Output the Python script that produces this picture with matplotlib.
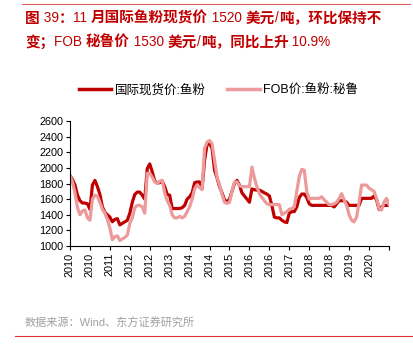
import matplotlib
matplotlib.use("Agg")
import matplotlib.pyplot as plt
from matplotlib.lines import Line2D

plt.rcParams['font.family'] = ['Liberation Sans', 'Noto Sans CJK SC', 'DejaVu Sans']

# monthly prices, USD/ton
spot = [1900, 1850, 1780, 1650, 1580, 1550, 1550, 1540, 1470, 1780,
        1840, 1760, 1660, 1500, 1430, 1400, 1370, 1310, 1340, 1350,
        1270, 1290, 1310, 1330, 1420, 1560, 1660, 1690, 1690, 1650,
        1600, 1990, 2050, 1950, 1830, 1810, 1810, 1830, 1760, 1660,
        1650, 1480, 1480, 1480, 1480, 1490, 1520, 1600, 1630, 1680,
        1810, 1820, 1820, 1740, 2100, 2300, 2310, 2250, 1970, 1870,
        1760, 1680, 1590, 1565, 1600, 1700, 1800, 1840, 1780, 1680,
        1640, 1600, 1560, 1730, 1720, 1715, 1715, 1700, 1680, 1665,
        1640, 1520, 1370, 1360, 1360, 1330, 1310, 1300, 1420, 1440,
        1440, 1500, 1620, 1665, 1665, 1620, 1540, 1520, 1520, 1520,
        1520, 1520, 1520, 1520, 1520, 1520, 1500, 1540, 1580, 1580,
        1580, 1560, 1520, 1520, 1520, 1520, 1520, 1610, 1610, 1610,
        1610, 1610, 1640, 1590, 1470, 1500, 1520, 1520, 1520]

fob_peru = [1900, 1820, 1680, 1490, 1400, 1450, 1460, 1360, 1330, 1600,
            1650, 1640, 1560, 1470, 1420, 1340, 1230, 1080, 1120, 1130,
            1070, 1090, 1110, 1140, 1290, 1360, 1490, 1520, 1520, 1500,
            1420, 1930, 1930, 1880, 1820, 1800, 1830, 1840, 1680, 1580,
            1520, 1400, 1360, 1360, 1380, 1360, 1380, 1440, 1500, 1600,
            1730, 1780, 1750, 1720, 2250, 2330, 2350, 2310, 2100, 1880,
            1780, 1660, 1560, 1545, 1560, 1700, 1820, 1820, 1770, 1760,
            1760, 1760, 1760, 2010, 1870, 1760, 1670, 1620, 1580, 1540,
            1530, 1530, 1530, 1530, 1530, 1400, 1420, 1440, 1470, 1480,
            1500, 1700, 1890, 1980, 1970, 1700, 1600, 1610, 1610, 1610,
            1610, 1630, 1590, 1560, 1530, 1530, 1540, 1560, 1610, 1670,
            1590, 1520, 1400, 1330, 1310, 1370, 1560, 1780, 1780, 1780,
            1740, 1720, 1700, 1610, 1480, 1460, 1560, 1610, 1530]

tick_labels = ['2010', '2010', '2011', '2012', '2012', '2013', '2014', '2014',
               '2015', '2016', '2016', '2017', '2018', '2018', '2019', '2020', '']

title_1 = '图 39：11 月国际鱼粉现货价 1520 美元/吨，环比保持不'
title_2 = '变；FOB 秘鲁价 1530 美元/吨，同比上升 10.9%'
source = '数据来源：Wind、东方证券研究所'
names = ['国际现货价:鱼粉', 'FOB价:鱼粉:秘鲁']

dark = '#c00000'
light = '#ec9a9a'
mixed = ['Liberation Sans', 'Noto Sans CJK SC', 'DejaVu Sans']

W, H = 414, 360
fig = plt.figure(figsize=(W / 100, H / 100), dpi=100)
ax = fig.add_axes([70 / W, 1 - 246 / H, 319 / W, 125 / H])

x = list(range(len(spot)))
ax.plot(x, spot, color=dark, lw=2.3, solid_joinstyle='round')
ax.plot(x, fob_peru, color=light, lw=2.3, solid_joinstyle='round')

ax.set_xlim(0, len(spot) - 1)
ax.set_ylim(1000, 2600)
ax.set_yticks(range(1000, 2601, 200))
ax.set_xticks(list(range(0, 121, 8)) + [len(spot) - 1])
ax.set_xticklabels(tick_labels, rotation=90)
ax.tick_params(labelsize=7.8, length=3, width=0.8, pad=2)
for s in ['top', 'right']:
    ax.spines[s].set_visible(False)
for s in ['left', 'bottom']:
    ax.spines[s].set_linewidth(0.8)

handles = [Line2D([], [], color=dark, lw=2.5), Line2D([], [], color=light, lw=2.5)]
fig.legend(handles, names, loc='center', bbox_to_anchor=(0.528, 1 - 90 / H), ncol=2,
           frameon=False, handlelength=2.6, handletextpad=0.3, columnspacing=1.7,
           prop={'family': mixed, 'size': 9})


# title: CJK runs bold, latin runs regular, placed one after another
def title_line(text, x0, y):
    renderer = fig.canvas.get_renderer()
    runs = []
    for ch in text:
        latin = ord(ch) < 128
        if runs and runs[-1][0] == latin:
            runs[-1][1] += ch
        else:
            runs.append([latin, ch])
    xpos = x0
    for latin, chunk in runs:
        if latin:
            t = fig.text(xpos / W, y, chunk, color=dark, fontsize=9.8,
                         family='Liberation Sans', va='center')
        else:
            t = fig.text(xpos / W, y, chunk, color=dark, fontsize=10.5,
                         fontweight='bold', family='Noto Sans CJK SC', va='center')
        xpos = t.get_window_extent(renderer).x1


title_line(title_1, 25, 1 - 18 / H)
title_line(title_2, 25, 1 - 42 / H)

fig.text(25 / W, 1 - 323 / H, source, color='#a0a0a0', fontsize=8,
         va='center', family=mixed)
fig.add_artist(Line2D([22 / W, 410 / W], [1 - 4 / H, 1 - 4 / H], color='#e06060', lw=0.8))
fig.add_artist(Line2D([15 / W, 1.0], [1 - 336 / H, 1 - 336 / H], color='#e03030', lw=0.8))

fig.savefig('out.png', dpi=100)
